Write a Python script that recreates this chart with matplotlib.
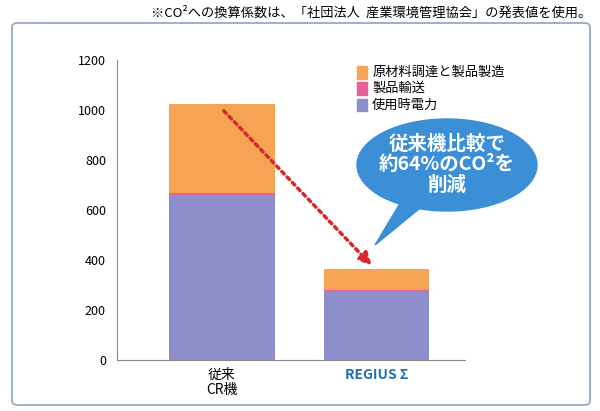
import matplotlib
matplotlib.use("Agg")
import matplotlib.pyplot as plt
from matplotlib.patches import FancyBboxPatch, Ellipse, Polygon

categories = ["従来\nCR機", "REGIUS Σ"]
usage = [660, 275]
transport = [6, 4]
manufacture = [359, 86]
labels = ["原材料調達と製品製造", "製品輸送", "使用時電力"]
yticks = [0, 200, 400, 600, 800, 1000, 1200]

plt.rcParams["font.family"] = "Noto Sans CJK JP"
fig = plt.figure(figsize=(6, 4.11), dpi=100)
fig.patches.append(FancyBboxPatch((12/600, 6/411), 578/600, 382/411, boxstyle="round,pad=0,rounding_size=0.01",
                                  transform=fig.transFigure, fill=False, ec="#8fa3b8", lw=1.2))
fig.text(0.985, 0.985, "※CO²への換算係数は、「社団法人  産業環境管理協会」の発表値を使用。", ha="right", va="top", fontsize=9.5)

ax = fig.add_axes([117/600, 51/411, 348/600, 300/411])
x = [0, 1]
c_use, c_tr, c_man = "#8d8fcc", "#e8609a", "#f4a452"
ax.bar(x, usage, 0.68, color=c_use)
b2 = [u for u in usage]
ax.bar(x, transport, 0.68, bottom=b2, color=c_tr)
b3 = [u + t for u, t in zip(usage, transport)]
ax.bar(x, manufacture, 0.68, bottom=b3, color=c_man)
ax.set_xlim(-0.677, 1.57)
ax.set_ylim(0, 1200)
ax.set_yticks(yticks)
ax.tick_params(axis="y", labelsize=9, length=0, pad=8)
ax.tick_params(axis="x", length=0, pad=6)
ax.set_xticks(x)
ax.set_xticklabels(categories, fontsize=10, linespacing=1.1)
ax.get_xticklabels()[1].set_color("#1e6fb8")
ax.get_xticklabels()[1].set_fontweight("bold")
for s in ["top", "right"]:
    ax.spines[s].set_visible(False)
for s in ["left", "bottom"]:
    ax.spines[s].set_color("#888888")

top0 = usage[0] + transport[0] + manufacture[0]
top1 = usage[1] + transport[1] + manufacture[1]
ax.annotate("", xy=(0.98, top1 + 5), xytext=(0, top0 - 20),
            arrowprops=dict(arrowstyle="-|>", color="#d8282c", lw=2.5, linestyle=(0, (1, 1.2)), mutation_scale=18))

# legend
for i, (lab, c) in enumerate(zip(labels, [c_man, c_tr, c_use])):
    y = 1150 - i * 65
    ax.add_patch(plt.Rectangle((0.87, y - 25), 0.07, 50, color=c, clip_on=False))
    ax.text(0.97, y, lab, va="center", fontsize=9.5)

# callout bubble
fig.patches.append(Ellipse((447/600, 1 - 165/411), 180/600, 92/411, transform=fig.transFigure, color="#3b8fd6"))
fig.patches.append(Polygon([(405/600, 1 - 195/411), (430/600, 1 - 200/411), (375/600, 1 - 245/411)],
                           transform=fig.transFigure, color="#3b8fd6"))
fig.text(447/600, 1 - 165/411, "従来機比較で\n約64%のCO²を\n削減", ha="center", va="center",
         color="white", fontsize=14, fontweight="bold", linespacing=1.1)

fig.savefig("out.png", dpi=100)
